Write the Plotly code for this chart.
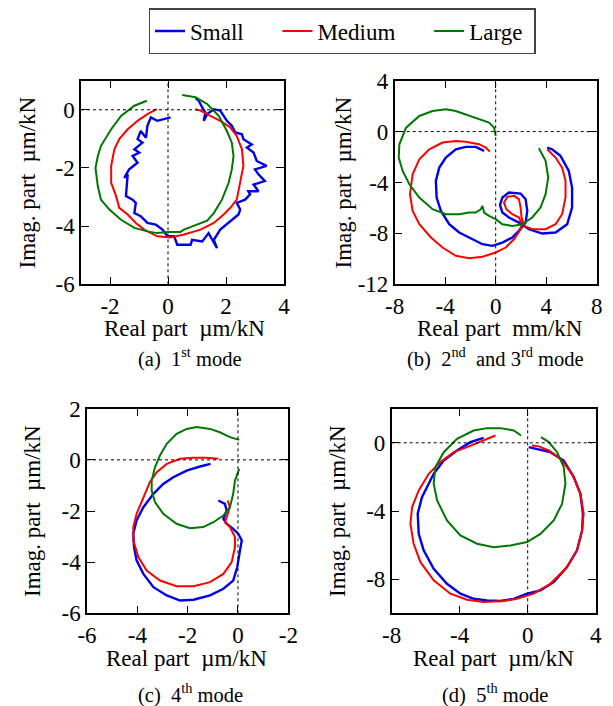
import plotly.graph_objects as go

# ---------------- data ----------------
series_names = ["Small", "Medium", "Large"]
series_colors = ["#0000ee", "#ff0000", "#007700"]

# (a) 1st mode
a_small_x = [0.09,-0.14,-0.37,-0.59,-0.71,-0.76,-0.94,-1.05,-0.88,-1.16,-0.99,-1.22,-1.05,-1.34,-1.51,-1.39,-1.42,-1.45,-1.22,-1.11,-1.16,-0.94,-0.71,-0.42,-0.19,-0.02,0.21,0.32,0.78,0.83,1.18,1.40,1.69,1.58,1.80,2.09,2.43,2.49,2.37,2.66,2.83,2.77,3.12,2.95,3.34,3.12,3.00,3.40,3.06,2.95,2.72,2.89,2.60,2.55,2.32,2.20,2.03,1.92,1.80,1.58,1.35,1.23,1.29,1.18,1.06,0.95]
a_small_y = [-0.26,-0.32,-0.38,-0.26,-0.55,-0.96,-0.73,-1.01,-1.13,-1.36,-1.47,-1.59,-1.82,-2.05,-2.34,-2.22,-2.63,-2.97,-3.09,-3.20,-3.55,-3.66,-3.89,-3.95,-4.12,-4.35,-4.35,-4.64,-4.64,-4.47,-4.53,-4.24,-4.76,-4.47,-4.12,-3.89,-3.60,-3.43,-3.20,-3.09,-2.91,-2.80,-2.80,-2.57,-2.45,-2.22,-2.05,-1.93,-1.76,-1.47,-1.30,-1.19,-1.01,-0.84,-0.78,-0.55,-0.38,-0.21,-0.03,0.02,-0.15,-0.38,-0.09,0.08,0.31,0.40]
a_medium_x = [-0.39,-0.71,-1.05,-1.39,-1.68,-1.85,-1.96,-1.96,-1.79,-1.68,-1.39,-1.11,-0.82,-0.37,0.09,0.55,1.12,1.58,1.92,2.15,2.37,2.49,2.60,2.55,2.37,2.15,1.80,1.46,1.12,0.95]
a_medium_y = [0.02,-0.15,-0.38,-0.67,-1.01,-1.36,-1.93,-2.51,-2.97,-3.37,-3.60,-3.89,-4.12,-4.35,-4.39,-4.29,-4.12,-3.89,-3.60,-3.37,-3.09,-2.51,-1.93,-1.36,-0.90,-0.61,-0.38,-0.21,-0.03,0.02]
a_large_x = [-0.73,-1.16,-1.62,-1.96,-2.31,-2.42,-2.50,-2.42,-2.31,-2.02,-1.62,-1.16,-0.71,-0.37,0.00,0.43,0.55,1.00,1.35,1.58,1.86,2.09,2.20,2.26,2.20,2.03,1.75,1.35,0.95,0.49]
a_large_y = [0.31,0.14,-0.21,-0.67,-1.24,-1.59,-2.00,-2.63,-3.09,-3.43,-3.78,-4.06,-4.18,-4.24,-4.20,-4.20,-4.12,-3.95,-3.81,-3.55,-3.09,-2.51,-2.05,-1.59,-1.13,-0.73,-0.21,0.20,0.43,0.51]

# (b) 2nd and 3rd mode
b_small_x = [-0.92,-1.58,-2.37,-3.16,-3.95,-4.47,-4.74,-4.68,-4.34,-3.68,-2.89,-1.84,-1.05,-0.26,0.53,1.32,1.84,2.37,2.50,2.37,1.97,1.05,0.53,0.34,0.53,1.05,1.84,2.63,3.68,4.74,5.66,6.05,6.05,5.79,5.13,4.47,4.08]
b_small_y = [-1.52,-1.20,-1.20,-1.39,-2.04,-2.83,-3.87,-5.18,-6.23,-7.28,-7.93,-8.46,-8.85,-8.98,-8.72,-8.32,-7.80,-7.15,-6.23,-5.31,-4.87,-4.79,-5.18,-5.76,-6.36,-6.75,-7.15,-7.67,-8.01,-7.93,-7.28,-5.97,-4.40,-3.09,-1.91,-1.39,-1.26]
b_medium_x = [-0.47,-0.79,-1.32,-2.37,-3.16,-4.21,-5.26,-6.05,-6.58,-6.79,-6.58,-6.05,-5.13,-4.21,-3.16,-2.10,-1.05,0.00,0.79,1.45,1.97,2.05,1.84,1.32,0.84,0.66,0.92,1.45,1.84,1.97,2.05,2.24,2.89,3.95,4.74,5.26,5.53,5.53,5.26,4.74,4.08]
b_medium_y = [-1.57,-1.26,-0.99,-0.79,-0.73,-0.86,-1.39,-2.17,-3.35,-4.92,-6.23,-7.28,-8.32,-9.11,-9.76,-9.95,-9.84,-9.50,-9.11,-8.46,-7.67,-7.25,-6.75,-6.49,-6.10,-5.58,-5.13,-5.05,-5.31,-5.97,-6.75,-7.41,-7.67,-7.67,-7.28,-6.49,-5.18,-3.87,-2.83,-2.04,-1.39]
b_large_x = [0.00,-0.13,-0.53,-1.32,-2.10,-3.16,-3.95,-5.00,-6.05,-7.10,-7.63,-7.68,-7.37,-6.84,-6.05,-5.00,-3.95,-2.89,-2.10,-1.58,-1.18,-1.05,-0.92,-0.53,0.00,0.53,1.32,2.10,2.89,3.55,3.95,4.16,3.95,3.42]
b_large_y = [-0.34,0.31,0.71,0.97,1.23,1.62,1.75,1.62,1.23,0.31,-1.00,-2.04,-3.09,-4.14,-5.18,-6.10,-6.49,-6.49,-6.36,-6.36,-6.10,-5.84,-6.36,-6.62,-6.88,-7.28,-7.41,-7.28,-6.75,-5.97,-4.92,-3.61,-2.30,-1.31]

# (c) 4th mode
c_small_x = [-1.09,-1.51,-2.04,-2.57,-2.97,-3.36,-3.76,-4.03,-4.16,-4.13,-4.03,-3.76,-3.36,-2.83,-2.30,-1.77,-1.11,-0.58,-0.19,-0.03,0.08,0.15,0.01,-0.19,-0.45,-0.58,-0.45,-0.52,-0.78]
c_small_y = [-0.16,-0.26,-0.42,-0.68,-0.94,-1.33,-1.85,-2.37,-2.89,-3.41,-3.93,-4.46,-4.98,-5.30,-5.50,-5.47,-5.30,-5.04,-4.72,-4.20,-3.54,-3.15,-2.89,-2.70,-2.50,-2.31,-1.98,-1.72,-1.59]
c_medium_x = [-0.78,-1.25,-1.77,-2.30,-2.83,-3.23,-3.50,-3.76,-4.03,-4.16,-4.16,-3.96,-3.63,-3.10,-2.44,-1.77,-1.11,-0.58,-0.25,-0.12,-0.12,-0.32,-0.52,-0.45,-0.32,-0.41]
c_medium_y = [0.04,0.08,0.08,0.04,-0.16,-0.48,-0.87,-1.46,-2.11,-2.63,-3.15,-3.80,-4.33,-4.72,-4.94,-4.94,-4.78,-4.46,-4.00,-3.41,-3.02,-2.63,-2.44,-2.24,-1.85,-1.59]
c_large_x = [0.05,-0.32,-0.72,-1.11,-1.64,-2.04,-2.44,-2.83,-3.10,-3.30,-3.43,-3.43,-3.30,-2.97,-2.44,-1.91,-1.38,-0.98,-0.58,-0.32,-0.19,-0.12,0.05]
c_large_y = [0.78,0.89,1.08,1.21,1.28,1.21,1.02,0.63,0.17,-0.29,-0.81,-1.20,-1.65,-2.11,-2.50,-2.67,-2.63,-2.44,-2.18,-1.85,-1.33,-0.81,-0.35]

# (d) 5th mode
d_small_x = [-2.59,-3.37,-4.16,-4.94,-5.53,-5.92,-6.22,-6.47,-6.41,-6.12,-5.53,-4.75,-3.96,-3.18,-2.39,-1.61,-0.82,-0.04,0.75,1.53,2.31,2.90,3.20,3.25,3.10,2.71,2.12,1.33,0.55,0.06]
d_small_y = [0.29,0.04,-0.45,-1.04,-1.82,-2.60,-3.19,-4.16,-5.34,-6.31,-7.39,-8.27,-8.85,-9.15,-9.24,-9.28,-9.15,-8.85,-8.66,-8.17,-7.29,-6.31,-5.14,-4.16,-2.99,-2.01,-1.04,-0.55,-0.35,-0.25]
d_medium_x = [-1.90,-2.59,-3.57,-4.35,-5.14,-5.82,-6.41,-6.80,-6.90,-6.71,-6.31,-5.53,-4.55,-3.57,-2.59,-1.61,-0.63,0.35,1.33,2.31,2.90,3.20,3.29,3.10,2.61,1.92,1.24,0.65,0.25]
d_medium_y = [0.43,0.14,-0.25,-0.55,-1.13,-1.82,-2.79,-3.77,-4.75,-5.92,-7.00,-8.07,-8.85,-9.20,-9.34,-9.30,-9.15,-8.85,-8.27,-7.29,-6.31,-5.14,-4.16,-2.99,-1.82,-0.94,-0.45,-0.21,-0.16]
d_large_x = [-0.39,-0.82,-1.61,-2.39,-3.18,-4.16,-4.94,-5.43,-5.53,-5.33,-4.75,-3.96,-2.98,-2.00,-1.02,-0.04,0.75,1.53,2.02,2.22,2.12,1.73,1.24,0.78]
d_large_y = [0.43,0.72,0.86,0.86,0.72,0.23,-0.55,-1.43,-2.40,-3.38,-4.55,-5.43,-5.92,-6.12,-6.02,-5.82,-5.34,-4.55,-3.58,-2.40,-1.43,-0.55,0.04,0.33]

# axes: ranges, tick values, tick labels
a_xrange, a_yrange = [-3, 4], [-6, 1]
a_xticks, a_xlabels = [-2, 0, 2, 4], ["-2", "0", "2", "4"]
a_yticks, a_ylabels = [0, -2, -4, -6], ["0", "-2", "-4", "-6"]
b_xrange, b_yrange = [-8, 8], [-12, 4]
b_xticks, b_xlabels = [-8, -4, 0, 4, 8], ["-8", "-4", "0", "4", "8"]
b_yticks, b_ylabels = [4, 0, -4, -8, -12], ["4", "0", "-4", "-8", "-12"]
c_xrange, c_yrange = [-6, 2], [-6, 2]
c_xticks, c_xlabels = [-6, -4, -2, 0, 2], ["-6", "-4", "-2", "0", "-2"]
c_yticks, c_ylabels = [2, 0, -2, -4, -6], ["2", "0", "-2", "-4", "-6"]
d_xrange, d_yrange = [-8, 4], [-10, 2]
d_xticks, d_xlabels = [-8, -4, 0, 4], ["-8", "-4", "0", "4"]
d_yticks, d_ylabels = [0, -4, -8], ["0", "-4", "-8"]

captions = ["(a)\u00a0\u00a01<sup>st</sup> mode",
            "(b)\u00a0\u00a02<sup>nd</sup>\u00a0 and 3<sup>rd</sup> mode",
            "(c)\u00a0\u00a04<sup>th</sup> mode",
            "(d)\u00a0\u00a05<sup>th</sup> mode"]
ytitle = "Imag. part\u00a0\u00a0\u00b5m/kN"
xtitles = ["Real part\u00a0\u00a0\u00b5m/kN", "Real part\u00a0\u00a0mm/kN",
           "Real part\u00a0\u00a0\u00b5m/kN", "Real part\u00a0\u00a0\u00b5m/kN"]
legend_pads = ["\u00a0" * 5, "\u00a0" * 5, "\u00a0"]

# ---------------- figure ----------------
# the page body has an 8px margin: the figure is shifted by OFF, so
# all pixel positions below are given in window pixels minus OFF
OFF = 8
W, H = 613 - OFF, 706 - OFF
FONT = "Liberation Serif"
fig = go.Figure()

panels = [
    ("x", "y", [(a_small_x, a_small_y), (a_medium_x, a_medium_y), (a_large_x, a_large_y)]),
    ("x2", "y2", [(b_small_x, b_small_y), (b_medium_x, b_medium_y), (b_large_x, b_large_y)]),
    ("x3", "y3", [(c_small_x, c_small_y), (c_medium_x, c_medium_y), (c_large_x, c_large_y)]),
    ("x4", "y4", [(d_small_x, d_small_y), (d_medium_x, d_medium_y), (d_large_x, d_large_y)]),
]
for pi, (xa, ya, curves) in enumerate(panels):
    for si, (xs, ys) in enumerate(curves):
        fig.add_trace(go.Scatter(
            x=xs, y=ys, mode="lines", name=series_names[si] + legend_pads[si],
            line=dict(color=series_colors[si], width=2.4 if si == 0 else 2),
            xaxis=xa, yaxis=ya, showlegend=(pi == 0)))

def px(v):
    return (v - OFF) / W

def py(v):
    return 1 - (v - OFF) / H

# pixel boxes of plot areas (window pixels) -> paper domains
boxes = [(81, 284, 80.7, 284.3), (394.7, 596.7, 80.7, 284.3),
         (87, 288.3, 408.7, 613.3), (391.7, 595.7, 408.7, 613.3)]
ranges = [(a_xrange, a_yrange, a_xticks, a_xlabels, a_yticks, a_ylabels),
          (b_xrange, b_yrange, b_xticks, b_xlabels, b_yticks, b_ylabels),
          (c_xrange, c_yrange, c_xticks, c_xlabels, c_yticks, c_ylabels),
          (d_xrange, d_yrange, d_xticks, d_xlabels, d_yticks, d_ylabels)]
layout = {}
for i, ((l, r, t, b), (xr, yr, xt, xl, yt, yl)) in enumerate(zip(boxes, ranges)):
    sx = "" if i == 0 else str(i + 1)
    common = dict(showline=True, linecolor="black", linewidth=1.5, mirror="ticks",
                  ticks="inside", ticklen=8, tickwidth=1.2, tickcolor="black",
                  showgrid=False, zeroline=False, fixedrange=True, automargin=False,
                  tickfont=dict(family=FONT, size=23, color="black"))
    layout["xaxis" + sx] = dict(domain=[px(l), px(r)], range=xr, tickvals=xt, ticktext=xl,
                                anchor="y" + sx, **common)
    layout["yaxis" + sx] = dict(domain=[py(b), py(t)], range=yr, tickvals=yt, ticktext=yl,
                                anchor="x" + sx, **common)
    # dotted zero lines
    fig.add_shape(type="line", xref="x" + sx, yref="y" + sx, x0=0, x1=0, y0=yr[0], y1=yr[1],
                  line=dict(color="black", width=1, dash="dot"))
    fig.add_shape(type="line", xref="x" + sx, yref="y" + sx, x0=xr[0], x1=xr[1], y0=0, y1=0,
                  line=dict(color="black", width=1, dash="dot"))

fig.update_layout(**layout)

# annotations: axis titles & captions (window pixels)
ytitle_pos = [(27, 182.5), (343, 182.5), (32, 511), (337, 511)]
xtitle_pos = [(184, 328), (500, 328), (186, 658), (493, 658)]
caption_pos = [(190, 357), (495, 357), (190, 693), (495, 693)]
for i in range(4):
    fig.add_annotation(x=px(ytitle_pos[i][0]), y=py(ytitle_pos[i][1]), xref="paper", yref="paper",
                       text=ytitle, textangle=-90, showarrow=False, xanchor="center", yanchor="middle",
                       font=dict(family=FONT, size=23, color="black"))
    fig.add_annotation(x=px(xtitle_pos[i][0]), y=py(xtitle_pos[i][1]), xref="paper", yref="paper",
                       text=xtitles[i], showarrow=False, xanchor="center", yanchor="middle",
                       font=dict(family=FONT, size=23, color="black"))
    fig.add_annotation(x=px(caption_pos[i][0]), y=py(caption_pos[i][1]), xref="paper", yref="paper",
                       text=captions[i], showarrow=False, xanchor="center", yanchor="middle",
                       font=dict(family=FONT, size=20.5, color="black"))

fig.update_layout(
    width=W, height=H, margin=dict(l=0, r=0, t=0, b=0, autoexpand=False),
    paper_bgcolor="white", plot_bgcolor="white",
    font=dict(family=FONT, size=23, color="black"),
    legend=dict(orientation="h", x=px(342), xanchor="center", y=py(8), yanchor="top",
                bordercolor="#444", borderwidth=1.5, bgcolor="white",
                font=dict(family=FONT, size=23, color="black"), tracegroupgap=0),
)
fig.write_html("out.html")
